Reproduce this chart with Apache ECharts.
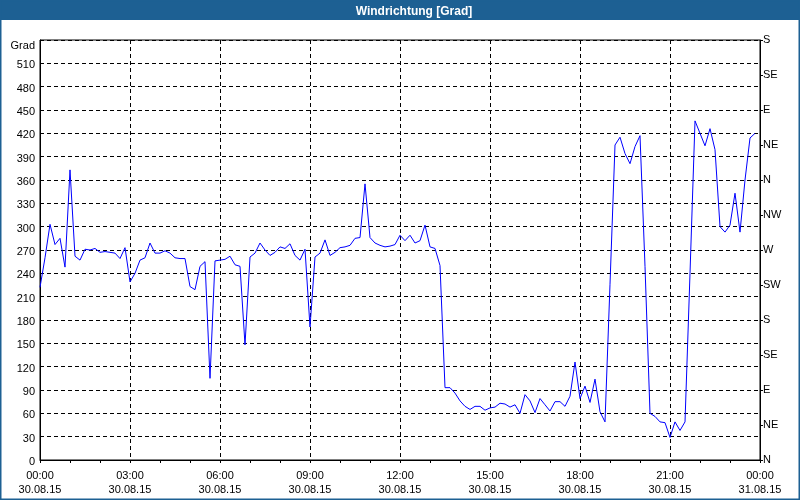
<!DOCTYPE html>
<html>
<head>
<meta charset="utf-8">
<script src="https://cdn.jsdelivr.net/npm/echarts@6/dist/echarts.min.js"></script>
<style>
html,body{margin:0;padding:0;background:#fff;}
#c{width:800px;height:500px;}
</style>
</head>
<body>
<div id="c"></div>
<script>
const chartTitle = 'Windrichtung [Grad]';
const stepMinutes = 10;
// wind direction every 10 minutes from 00:00 to 23:50
const direction = [
 222,260,303,277,285,248,373,262,257,271,270,272,267,268,267,266,259,273,229,240,
 257,260,279,266,266,269,266,260,259,259,223,219,249,255,105,256,257,258,262,251,
 249,148,261,266,279,270,263,267,274,272,278,263,257,271,171,261,266,283,263,267,
 273,274,276,285,286,355,286,279,276,274,275,277,289,282,289,279,282,302,274,272,
 250,93,93,86,76,69,65,69,69,64,67,68,73,72,68,71,60,84,76,61,
 79,71,63,75,75,69,82,126,79,95,74,104,62,49,226,405,415,394,381,403,
 417,249,60,56,49,48,29,49,38,49,240,436,420,404,426,399,300,293,302,343,
 293,360,414,420
];
const xTickLabels = ['00:00\n30.08.15','03:00\n30.08.15','06:00\n30.08.15','09:00\n30.08.15',
  '12:00\n30.08.15','15:00\n30.08.15','18:00\n30.08.15','21:00\n30.08.15','00:00\n31.08.15'];
const compassLabels = ['N','NE','E','SE','S','SW','W','NW','N','NE','E','SE','S'];
const leftUnitLabel = 'Grad';

const points = direction.map((v, i) => [i * stepMinutes, v]);
const font = 'Liberation Sans';
const chart = echarts.init(document.getElementById('c'), null, {renderer: 'canvas'});
chart.setOption({
  animation: false,
  backgroundColor: '#ffffff',
  graphic: [
    {type: 'rect', shape: {x: 0, y: 0, width: 800, height: 20}, style: {fill: '#1d6093'}, z: 0},
    {type: 'rect', shape: {x: 0.75, y: 0.75, width: 798.5, height: 498.5}, style: {fill: null, stroke: '#1d6093', lineWidth: 1.5}, z: 0}
  ],
  title: {
    text: chartTitle,
    left: 409, top: 1, textAlign: 'center',
    textStyle: {color: '#ffffff', fontFamily: font, fontWeight: 'bold', fontSize: 12}
  },
  grid: {left: 40, right: 40, top: 40, bottom: 40, show: true, borderColor: '#000', borderWidth: 1, backgroundColor: 'transparent'},
  xAxis: {
    type: 'value', min: 0, max: 1440, interval: 180,
    axisLine: {show: true, lineStyle: {color: '#000', width: 1}},
    axisTick: {show: true, inside: false, length: 3, lineStyle: {color: '#000'}},
    minorTick: {show: true, splitNumber: 3, length: 3, lineStyle: {color: '#000'}},
    splitLine: {show: true, lineStyle: {color: '#000', type: [4, 3], width: 1}},
    axisLabel: {
      margin: 9, color: '#000', fontFamily: font, fontSize: 11, lineHeight: 14,
      showMinLabel: true, showMaxLabel: true,
      formatter: v => xTickLabels[Math.round(v / 180)]
    }
  },
  yAxis: [
    {
      type: 'value', min: 0, max: 540, interval: 30, position: 'left',
      axisLine: {show: true, lineStyle: {color: '#000'}},
      axisTick: {show: false},
      splitLine: {show: true, lineStyle: {color: '#000', type: [4, 3], width: 1}},
      axisLabel: {margin: 5, color: '#000', fontFamily: font, fontSize: 11,
        padding: [4, 0, 0, 0],
        formatter: v => v === 540 ? '{u|' + leftUnitLabel + '}' : String(v),
        rich: {u: {fontFamily: font, fontSize: 11, color: '#000', padding: [8, 0, 0, 0]}}}
    },
    {
      type: 'value', min: 0, max: 540, interval: 45, position: 'right',
      axisLine: {show: true, lineStyle: {color: '#000'}},
      axisTick: {show: true, inside: false, length: 3, lineStyle: {color: '#000'}},
      splitLine: {show: false},
      axisLabel: {margin: 3, color: '#000', fontFamily: font, fontSize: 11,
        padding: [4, 0, 0, 0],
        formatter: v => compassLabels[Math.round(v / 45)]}
    }
  ],
  series: [{
    type: 'line', data: points, yAxisIndex: 0,
    showSymbol: false, symbol: 'none',
    lineStyle: {color: '#0000ff', width: 1},
    z: 5
  }]
});
</script>
</body>
</html>
